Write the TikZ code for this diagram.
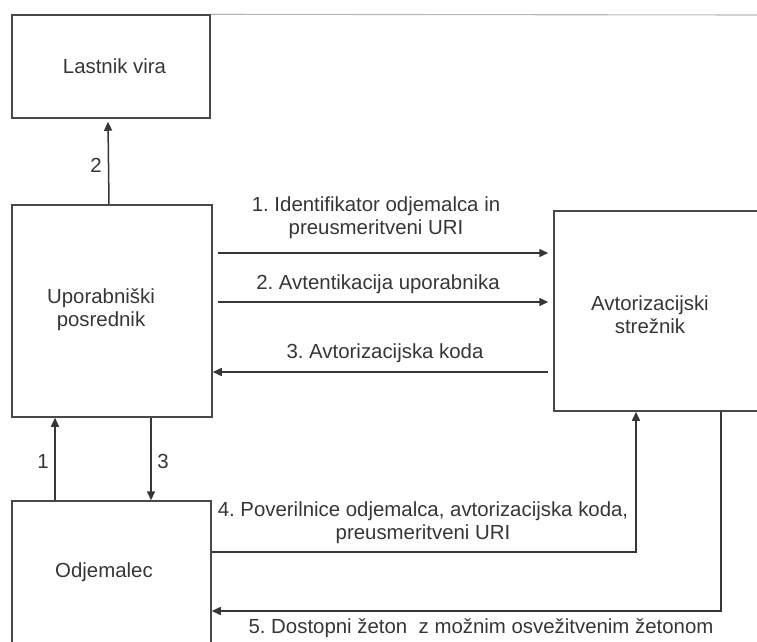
\documentclass[tikz,border=0pt]{standalone}
\usepackage{fontspec}
\setmainfont{Liberation Sans}
\usetikzlibrary{arrows.meta}
\definecolor{ink}{HTML}{363636}
\definecolor{boxline}{HTML}{484848}
\definecolor{rule}{HTML}{B8B8B8}
\frenchspacing
\begin{document}
\begin{tikzpicture}[x=1pt,y=-1pt,
  every node/.style={font=\fontsize{20.4}{23}\selectfont, text=ink, inner sep=0pt},
  block/.style={draw=boxline, line width=1.5pt, rectangle, minimum width=#1},
  flow/.style={draw=ink, line width=1.5pt, -{Triangle[length=9pt,width=8pt]}},
  lbl/.style={anchor=base, align=center},
  mlbl/.style={anchor=center, align=center}]
\useasboundingbox (0,0) rectangle (757,641);
% boxes
\node[block=198pt, minimum height=103pt] (owner) at (111,66.5) {};
\node[block=200pt, minimum height=212pt] (agent) at (112,311) {};
\node[block=211pt, minimum height=200pt] (auth) at (659.5,311) {};
\node[block=199pt, minimum height=160pt] (client) at (111.5,581) {};
% thin rule continuing the top edge of the resource-owner box
\draw[rule, line width=1.1pt] (owner.north east) -- (757,15);
% box captions
\node[lbl] (townr) at (114.5,73) {Lastnik vira};
\node[mlbl] (tagnt) at (101,310) {Uporabniški\\posrednik};
\node[mlbl] (tauth) at (650,315) {Avtorizacijski\\strežnik};
\node[lbl] (tclnt) at (104,577) {Odjemalec};
% helper coordinates for connector rows and columns
\coordinate (r1) at (0,253);
\coordinate (r2) at (0,302);
\coordinate (r3) at (0,372);
\coordinate (r4) at (0,552);
\coordinate (r5) at (0,611);
\coordinate (k1) at (55,0);
\coordinate (k3) at (151,0);
\coordinate (k4) at (636,0);
\coordinate (k5) at (721,0);
% agent <-> owner
\draw[flow] ([xshift=-3pt]agent.north) -- ([xshift=-3pt,yshift=-3pt]owner.south);
\node[lbl] (n2) at (96,172) {2};
% agent <-> authorization server
\draw[flow, shorten <=5pt, shorten >=5pt] (agent.east |- r1) -- (auth.west |- r1);
\draw[flow, shorten <=5pt, shorten >=5pt] (agent.east |- r2) -- (auth.west |- r2);
\draw[flow, shorten <=5pt] (auth.west |- r3) -- (agent.east |- r3);
\node[mlbl] (m1) at (376,218) {1. Identifikator odjemalca in\\preusmeritveni URI};
\node[lbl] (m2) at (378,289) {2. Avtentikacija uporabnika};
\node[lbl] (m3) at (385,358) {3. Avtorizacijska koda};
% client <-> agent
\draw[flow] (client.north -| k1) -- (agent.south -| k1);
\draw[flow] (agent.south -| k3) -- (client.north -| k3);
\node[lbl] (n1) at (43,468) {1};
\node[lbl] (n3) at (163,468) {3};
% client <-> authorization server
\draw[flow] (client.east |- r4) -| (auth.south -| k4);
\draw[flow] (auth.south -| k5) |- (client.east |- r5);
\node[mlbl] (m4) at (423,523) {4. Poverilnice odjemalca, avtorizacijska koda,\\preusmeritveni URI};
\node[lbl] (m5) at (481,633) {5. Dostopni žeton\ \ z možnim osvežitvenim žetonom};
\end{tikzpicture}
\end{document}
